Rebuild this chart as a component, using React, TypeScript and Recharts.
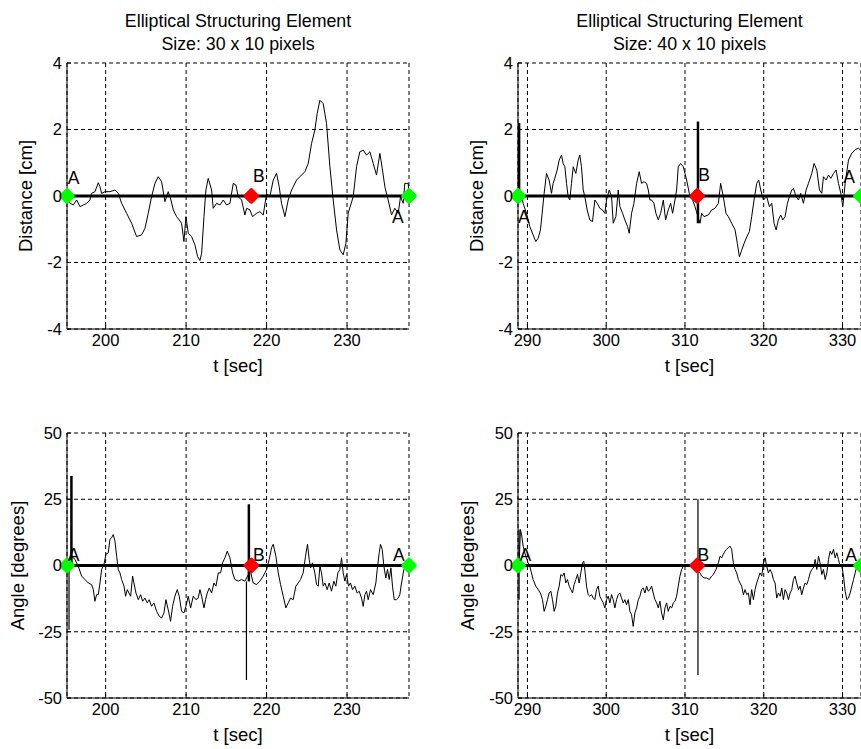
import React from 'react';
import { ComposedChart, Line, Scatter, XAxis, YAxis, CartesianGrid } from 'recharts';

const FONT = '"Liberation Sans", Arial, Helvetica, sans-serif';

// ---------- axes ----------
const ticksT30 = [200, 210, 220, 230];
const ticksT40 = [290, 300, 310, 320, 330];
const ticksDist = [-4, -2, 0, 2, 4];
const ticksAngle = [-50, -25, 0, 25, 50];
const domainT30: [number, number] = [195.2, 237.7];
const domainT40: [number, number] = [288.8, 332.35];
const domainDist: [number, number] = [-4, 4];
const domainAngle: [number, number] = [-50, 50];

const titles30 = ['Elliptical Structuring Element', 'Size: 30 x 10 pixels'];
const titles40 = ['Elliptical Structuring Element', 'Size: 40 x 10 pixels'];
const xLabel = 't [sec]';
const yLabelDist = 'Distance [cm]';
const yLabelAngle = 'Angle [degrees]';

// ---------- signals [t, value] ----------
const dist30: [number, number][] = [
  [195.24, 0], [195.57, -0.22], [195.98, -0.27], [196.4, -0.12], [196.81, -0.32], [197.23, -0.27],
  [197.64, -0.22], [198.05, -0.12], [198.26, 0.08], [198.67, 0.13], [199.09, 0.4], [199.3, 0.28],
  [199.5, 0.08], [199.92, 0.13], [200.54, 0.13], [201.16, 0.18], [201.57, 0.08], [201.99, -0.22],
  [202.61, -0.52], [203.23, -0.82], [203.85, -1.22], [204.47, -1.17], [204.89, -0.97], [205.3, -0.52],
  [205.71, -0.02], [206.13, 0.38], [206.54, 0.58], [206.96, 0.43], [207.37, -0.17], [207.58, -0.02],
  [207.78, 0.13], [208.12, -0.12], [208.41, -0.42], [208.82, -0.62], [209.15, -0.72], [209.44, -0.82],
  [209.73, -1.37], [209.98, -0.62], [210.27, -1.12], [210.68, -1.22], [211.1, -1.47], [211.43, -1.82],
  [211.72, -1.94], [211.93, -1.72], [212.22, -0.62], [212.46, 0.18], [212.75, 0.53], [213.17, 0.18],
  [213.37, -0.37], [213.79, -0.22], [214.2, -0.27], [214.62, -0.12], [215.03, -0.27], [215.45, -0.22],
  [215.86, 0.38], [216.19, 0.33], [216.48, -0.02], [216.89, -0.12], [217.31, -0.57], [217.52, -0.37],
  [217.93, -0.42], [218.26, -0.62], [218.76, -0.52], [219.17, -0.47], [219.59, -0.57], [220.0, 0.08],
  [220.41, -0.02], [220.83, 0.48], [221.24, 0.68], [221.57, 0.28], [221.86, -0.22], [222.28, -0.62],
  [222.69, -0.12], [223.11, 0.18], [223.73, 0.48], [224.14, 0.58], [224.76, 0.73], [225.18, 0.98],
  [225.59, 1.58], [226.0, 1.98], [226.29, 2.48], [226.63, 2.88], [227.04, 2.78], [227.45, 2.18],
  [227.87, 0.88], [228.28, -0.12], [228.7, -1.02], [229.11, -1.62], [229.52, -1.77], [229.86, -1.42],
  [230.14, -0.52], [230.77, -0.02], [231.18, 0.88], [231.59, 1.33], [232.01, 1.38], [232.42, 1.23],
  [232.84, 1.33], [233.25, 0.98], [233.66, 0.63], [234.08, 1.28], [234.41, 0.78], [234.7, 0.28],
  [235.11, -0.12], [235.53, -0.57], [235.94, -0.37], [236.36, -0.52], [236.65, -0.02], [236.98, -0.22],
  [237.18, 0.38], [237.6, 0.38], [237.7, 0],
];

const dist40: [number, number][] = [
  [288.81, 0], [289.11, 0.18], [289.45, -0.22], [289.87, -0.52], [290.3, -0.92], [290.72, -1.17],
  [291.06, -1.37], [291.36, -1.27], [291.65, -1.02], [291.91, -0.42], [292.12, 0.08], [292.42, 0.68],
  [292.75, 0.48], [293.05, 0.08], [293.26, 0.38], [293.47, 0.53], [293.77, 0.78], [294.03, 1.08],
  [294.32, 1.23], [294.53, 0.98], [294.75, 0.88], [294.96, 0.38], [295.17, -0.02], [295.38, -0.12],
  [295.59, 0.38], [295.81, 0.88], [296.14, 0.68], [296.44, 1.08], [296.65, 1.23], [296.86, 0.88],
  [297.08, 0.18], [297.29, -0.02], [297.58, -0.42], [297.92, -0.72], [298.26, -0.77], [298.56, -0.12],
  [298.86, -0.22], [299.19, -0.37], [299.53, -0.42], [299.83, -0.52], [300.04, -0.12], [300.38, 0.18],
  [300.68, -0.02], [300.89, -0.82], [301.23, -0.62], [301.53, 0.18], [301.74, -0.32], [302.08, -0.52],
  [302.37, -0.72], [302.71, -0.92], [302.92, -1.12], [303.22, -0.52], [303.52, -0.22], [303.86, 0.38],
  [304.19, 0.73], [304.49, 0.38], [304.79, 0.43], [305.13, 0.38], [305.34, 0.18], [305.55, -0.12],
  [305.76, -0.12], [306.06, -0.22], [306.31, -0.52], [306.61, -0.72], [306.91, -0.52], [307.25, -0.12],
  [307.54, -0.72], [307.88, -0.42], [308.18, -0.22], [308.43, -0.52], [308.73, -0.12], [308.94, 0.18],
  [309.15, 0.88], [309.45, 0.98], [309.79, 0.88], [310.0, 0.68], [310.21, 0.48], [310.55, 0.08],
  [310.76, -0.07], [310.97, -0.12], [311.27, -0.32], [311.65, -0.62], [311.91, -0.82], [312.12, -0.52],
  [312.42, -0.62], [312.97, -0.57], [313.39, -0.42], [313.81, -0.37], [314.24, -0.22], [314.53, 0.38],
  [314.87, -0.02], [315.21, -0.52], [315.51, -0.62], [315.93, -0.82], [316.36, -1.02], [316.65, -1.43],
  [316.91, -1.83], [317.2, -1.63], [317.5, -1.43], [317.84, -1.23], [318.18, -1.07], [318.47, -0.62],
  [318.77, -0.12], [319.11, 0.38], [319.36, 0.48], [319.62, 0.18], [319.96, -0.12], [320.38, -0.02],
  [320.72, -0.32], [321.02, -0.22], [321.31, -0.82], [321.57, -1.02], [321.86, -0.72], [322.16, -0.57],
  [322.42, -0.72], [322.71, -0.62], [323.01, -0.22], [323.26, -0.02], [323.56, 0.18], [323.77, 0.23],
  [324.11, -0.02], [324.41, -0.12], [324.7, 0.08], [325.04, -0.22], [325.38, 0.18], [325.68, 0.38],
  [326.1, 0.68], [326.4, 0.98], [326.74, 0.78], [327.08, 0.18], [327.37, 0.08], [327.58, 0.58],
  [327.92, 0.48], [328.22, 0.63], [328.52, 0.53], [328.86, 0.68], [329.19, 0.78], [329.49, 0.38],
  [329.79, 0.08], [330.04, -0.32], [330.34, 0.38], [330.76, 1.08], [331.19, 1.29], [331.61, 1.39],
  [332.03, 1.44], [332.35, 1.36],
];

const angle30: [number, number][] = [
  [195.24, 0], [195.78, 3.5], [196.19, 2.3], [196.6, -0.3], [197.02, -4.0], [197.43, -5.3],
  [197.85, -6.6], [198.26, -7.2], [198.47, -9.1], [198.67, -13.5], [198.88, -11.0], [199.09, -11.0],
  [199.3, -6.6], [199.5, -1.5], [199.79, 0.4], [200.04, 4.2], [200.33, 4.8], [200.54, 9.9],
  [200.75, 10.5], [200.95, 11.7], [201.16, 9.2], [201.37, 3.5], [201.57, -1.5], [201.78, -2.8],
  [201.99, -5.3], [202.28, -7.8], [202.48, -11.6], [202.69, -9.1], [202.9, -10.4], [203.11, -11.6],
  [203.35, -4.0], [203.52, -6.6], [203.77, -10.4], [204.06, -12.9], [204.35, -11.0], [204.6, -13.5],
  [204.89, -12.3], [205.18, -14.1], [205.42, -12.9], [205.71, -15.4], [206.0, -14.1], [206.34, -17.3],
  [206.67, -19.2], [206.96, -19.8], [207.25, -17.9], [207.49, -12.9], [207.78, -16.7], [208.07, -21.1],
  [208.32, -15.4], [208.61, -11.6], [208.9, -9.1], [209.15, -11.6], [209.44, -17.3], [209.73, -17.9],
  [209.98, -15.4], [210.27, -11.6], [210.56, -16.0], [210.89, -11.6], [211.22, -12.9], [211.51, -12.3],
  [211.72, -9.1], [211.93, -11.6], [212.22, -16.0], [212.42, -12.9], [212.63, -10.4], [212.88, -8.5],
  [213.17, -10.4], [213.46, -6.6], [213.71, -7.8], [214.0, -2.8], [214.29, -2.8], [214.53, 1.0],
  [214.82, 2.9], [215.11, 5.4], [215.45, 2.9], [215.78, -2.8], [216.07, -5.3], [216.48, -5.9],
  [216.89, -5.3], [217.31, -5.9], [217.98, -2.0], [218.34, -6.6], [218.76, -7.2], [219.17, -5.9],
  [219.59, -4.0], [220.0, -1.5], [220.33, 2.3], [220.62, 6.7], [220.83, 8.0], [221.16, 3.5],
  [221.45, -2.8], [221.74, -7.2], [222.07, -11.6], [222.4, -16.0], [222.69, -14.1], [222.98, -12.3],
  [223.31, -12.9], [223.64, -7.8], [223.93, -6.6], [224.22, -5.3], [224.55, -2.8], [224.84, 3.5],
  [225.09, 8.0], [225.3, 2.3], [225.47, -0.9], [225.71, 1.0], [226.0, -2.8], [226.21, -7.2],
  [226.42, -7.8], [226.63, -0.3], [226.83, -2.8], [227.04, -7.8], [227.25, -6.6], [227.54, -9.1],
  [227.78, -6.6], [228.07, -9.7], [228.36, -5.9], [228.61, -7.8], [228.86, -2.8], [229.11, -1.5],
  [229.32, 2.9], [229.52, -2.8], [229.73, -5.9], [229.94, -3.4], [230.19, -7.8], [230.43, -6.6],
  [230.68, -9.1], [230.97, -7.8], [231.26, -10.4], [231.51, -9.7], [231.8, -12.3], [232.01, -15.4],
  [232.22, -11.0], [232.42, -9.7], [232.63, -12.9], [232.92, -9.1], [233.25, -11.0], [233.58, -6.6],
  [233.75, -1.5], [234.0, 4.8], [234.16, 8.0], [234.37, 6.1], [234.58, -0.3], [234.82, -4.7],
  [235.03, -1.5], [235.24, -5.3], [235.45, -0.9], [235.65, -7.8], [235.86, -12.9], [236.15, -12.9],
  [236.36, -12.3], [236.56, -11.0], [236.77, -6.6], [237.06, -1.5], [237.31, -0.3], [237.7, 0],
];

const angle40: [number, number][] = [
  [288.94, 0], [289.11, 13.6], [289.28, 11.1], [289.45, 7.3], [289.66, 4.8], [289.87, 2.9],
  [290.08, 1.0], [290.3, -0.3], [290.51, -2.8], [290.72, -5.3], [291.06, -7.8], [291.36, -9.1],
  [291.65, -10.4], [291.91, -12.9], [292.12, -17.3], [292.33, -15.4], [292.54, -12.9], [292.75, -10.4],
  [292.97, -9.7], [293.18, -12.9], [293.39, -17.3], [293.6, -15.4], [293.81, -10.4], [294.03, -7.8],
  [294.24, -3.4], [294.45, -4.0], [294.66, -2.8], [294.87, -6.6], [295.08, -5.3], [295.3, -7.8],
  [295.51, -9.1], [295.72, -10.4], [295.93, -7.2], [296.14, -5.3], [296.36, -3.4], [296.57, -6.6],
  [296.78, -2.8], [296.99, 1.0], [297.16, 1.6], [297.33, -2.8], [297.5, -7.8], [297.71, -11.0],
  [297.92, -11.6], [298.14, -11.0], [298.35, -12.3], [298.56, -12.9], [298.77, -9.1], [298.98, -7.8],
  [299.19, -11.6], [299.41, -12.9], [299.62, -14.1], [299.83, -16.0], [300.04, -12.9], [300.25, -11.6],
  [300.47, -14.1], [300.68, -11.0], [300.89, -12.9], [301.1, -16.0], [301.31, -12.9], [301.53, -11.0],
  [301.74, -10.4], [301.95, -12.3], [302.16, -14.1], [302.37, -12.9], [302.58, -14.8], [302.8, -12.9],
  [303.01, -17.3], [303.22, -18.6], [303.43, -23.0], [303.64, -17.9], [303.86, -16.0], [304.07, -12.9],
  [304.28, -11.6], [304.49, -9.1], [304.7, -8.5], [304.92, -10.4], [305.13, -7.8], [305.34, -9.7],
  [305.55, -9.1], [305.76, -7.8], [305.97, -10.4], [306.19, -12.9], [306.4, -14.1], [306.61, -16.0],
  [306.82, -13.5], [307.03, -17.9], [307.25, -20.5], [307.46, -16.0], [307.67, -14.1], [307.88, -17.3],
  [308.09, -15.4], [308.31, -16.0], [308.52, -14.1], [308.73, -13.5], [308.94, -11.6], [309.15, -7.8],
  [309.36, -4.0], [309.58, -1.5], [309.79, -0.3], [310.0, 0.4], [310.64, 0.3], [311.27, -1.0],
  [311.91, -2.8], [312.12, -4.0], [312.42, -4.7], [312.75, -4.7], [313.09, -5.3], [313.39, -4.0],
  [313.6, -3.4], [313.94, -1.5], [314.24, 1.0], [314.45, 3.5], [314.66, 2.9], [314.87, 4.2],
  [315.08, 5.4], [315.3, 6.1], [315.51, 6.7], [315.72, 7.3], [315.93, 6.1], [316.14, 1.0],
  [316.36, -1.5], [316.57, -2.8], [316.78, -5.3], [316.99, -6.6], [317.2, -7.8], [317.42, -11.0],
  [317.63, -9.1], [317.84, -11.0], [318.05, -10.4], [318.26, -14.8], [318.47, -9.1], [318.69, -12.9],
  [318.9, -9.1], [319.11, -6.6], [319.32, -4.7], [319.53, -2.8], [319.75, -4.0], [319.96, 1.0],
  [320.17, 2.9], [320.38, -0.3], [320.59, -2.8], [320.81, -1.5], [321.02, -2.8], [321.23, -5.3],
  [321.44, -6.6], [321.65, -12.3], [321.86, -10.4], [322.08, -11.6], [322.29, -8.5], [322.5, -12.9],
  [322.71, -9.1], [322.92, -10.4], [323.14, -12.9], [323.35, -10.4], [323.56, -9.1], [323.77, -5.3],
  [323.98, -4.0], [324.19, -6.6], [324.41, -9.1], [324.62, -7.8], [324.83, -11.0], [325.04, -8.5],
  [325.25, -6.6], [325.47, -7.2], [325.68, -5.3], [325.89, -2.8], [326.1, -1.5], [326.31, -0.9],
  [326.53, 2.3], [326.74, -1.5], [326.95, 3.5], [327.16, 1.0], [327.37, -3.4], [327.58, -1.5],
  [327.8, -5.3], [328.01, -2.8], [328.22, 2.3], [328.43, 5.4], [328.64, 4.2], [328.86, 6.1],
  [329.07, 2.9], [329.28, 4.8], [329.49, 2.3], [329.7, -0.3], [329.92, -0.3], [330.13, -4.0],
  [330.34, -9.7], [330.55, -12.9], [330.76, -12.3], [330.97, -10.4], [331.19, -7.8], [331.4, -5.3],
  [331.61, -2.8], [331.82, -0.3], [332.16, 0],
];

// ---------- event markers (A = segment ends, B = midpoint event) ----------
const events30 = [
  { t: 195.2, name: 'A' },
  { t: 218.1, name: 'B' },
  { t: 237.7, name: 'A' },
];
const events40 = [
  { t: 288.8, name: 'A' },
  { t: 311.55, name: 'B' },
  { t: 332.35, name: 'A' },
];

// text annotations, in data units
const notesDist30 = [
  { t: 195.3, v: 0.55, text: 'A' },
  { t: 218.3, v: 0.6, text: 'B' },
  { t: 235.6, v: -0.62, text: 'A' },
];
const notesDist40 = [
  { t: 288.8, v: -0.62, text: 'A' },
  { t: 311.7, v: 0.64, text: 'B' },
  { t: 330.1, v: 0.58, text: 'A' },
];
const notesAngle30 = [
  { t: 195.3, v: 4.2, text: 'A' },
  { t: 218.3, v: 4.2, text: 'B' },
  { t: 235.7, v: 4.2, text: 'A' },
];
const notesAngle40 = [
  { t: 289.0, v: 4.2, text: 'A' },
  { t: 311.6, v: 4.2, text: 'B' },
  { t: 330.35, v: 4.2, text: 'A' },
];

// ---------- vertical transients [t, low, high] ----------
const heavySpikesDist30: [number, number, number][] = [];
const lightSpikesDist30: [number, number, number][] = [];
const heavySpikesDist40: [number, number, number][] = [
  [288.94, 0, 2.2],
  [311.65, -0.82, 2.24],
];
const lightSpikesDist40: [number, number, number][] = [];
const heavySpikesAngle30: [number, number, number][] = [
  [195.75, 0, 33.8],
  [217.8, -6, 23.1],
];
const lightSpikesAngle30: [number, number, number][] = [
  [195.45, -24.2, 0],
  [217.5, -43.2, -6],
];
const heavySpikesAngle40: [number, number, number][] = [];
const lightSpikesAngle40: [number, number, number][] = [
  [288.94, -12.9, 13.6],
  [311.65, -41.3, 25.0],
];

// ---------- rendering ----------
const toPts = (arr: [number, number][]) => arr.map(([t, v]) => ({ t, v }));

const EventMarker = (p: any) => {
  const { cx, cy, payload } = p;
  if (cx == null || cy == null) return null;
  const c = payload && payload.name === 'A' ? '#00ff00' : '#ff0000';
  const r = 5.5;
  return (
    <polygon
      points={`${cx},${cy - r} ${cx + r},${cy} ${cx},${cy + r} ${cx - r},${cy}`}
      fill={c}
      stroke={c}
      strokeWidth={4.5}
      strokeLinejoin="round"
    />
  );
};

const NoteText = (p: any) => {
  const { cx, cy, payload } = p;
  if (cx == null || cy == null) return null;
  return (
    <text x={cx} y={cy} dy="0.36em" textAnchor="start" fontFamily={FONT} fontSize={17.5} fill="#000">
      {payload.text}
    </text>
  );
};

type PanelProps = {
  left: number;
  top: number;
  plotW: number;
  plotH: number;
  signal: [number, number][];
  xDomain: [number, number];
  xTicks: number[];
  yDomain: [number, number];
  yTicks: number[];
  events: { t: number; name: string }[];
  notes: { t: number; v: number; text: string }[];
  heavy: [number, number, number][];
  light: [number, number, number][];
  yLabel: string;
  yLabelX: number;
  title?: string[];
};

const CHART_W = 430;
const CHART_H = 379;
const PLOT_LEFT = 67;
const PLOT_TOP = 63;
const XAXIS_H = 50;
const YAXIS_W = 60;

function Panel(props: PanelProps) {
  const { left, top, plotW, plotH, signal, xDomain, xTicks, yDomain, yTicks, events, notes, heavy, light, yLabel, yLabelX, title } = props;
  const data = toPts(signal);
  const aEvents = events.filter((e) => e.name === 'A').map((e) => ({ t: e.t, v: 0 }));
  const eventPts = events.map((e) => ({ ...e, v: 0 }));
  const tickStyle = { fill: '#000', fontSize: 16.5, fontFamily: FONT };
  const margin = {
    top: PLOT_TOP,
    left: PLOT_LEFT - YAXIS_W,
    right: CHART_W - PLOT_LEFT - plotW,
    bottom: CHART_H - PLOT_TOP - plotH - XAXIS_H,
  };

  const xLabelContent = (lp: any) => {
    const vb = lp.viewBox || {};
    const cx = vb.x + vb.width / 2;
    return (
      <g>
        <text x={cx} y={vb.y + 43} textAnchor="middle" fontFamily={FONT} fontSize={18.5} fill="#000">
          {xLabel}
        </text>
        {title ? (
          <text x={cx} y={27} textAnchor="middle" fontFamily={FONT} fontSize={17.8} fill="#000">{title[0]}</text>
        ) : null}
        {title ? (
          <text x={cx} y={50} textAnchor="middle" fontFamily={FONT} fontSize={17.8} fill="#000">{title[1]}</text>
        ) : null}
      </g>
    );
  };
  const yLabelContent = (lp: any) => {
    const vb = lp.viewBox || {};
    const cy = vb.y + vb.height / 2;
    return (
      <text
        x={yLabelX}
        y={cy}
        dy="0.36em"
        transform={`rotate(-90 ${yLabelX} ${cy})`}
        textAnchor="middle"
        fontFamily={FONT}
        fontSize={18.5}
        fill="#000"
      >
        {yLabel}
      </text>
    );
  };

  return (
    <div style={{ position: 'absolute', left, top, width: CHART_W, height: CHART_H }}>
      <ComposedChart width={CHART_W} height={CHART_H} margin={margin}>
        <CartesianGrid stroke="#000" strokeDasharray="4 3" fill="none" />
        <XAxis
          dataKey="t"
          type="number"
          domain={xDomain}
          ticks={xTicks}
          interval={0}
          height={XAXIS_H}
          stroke="#000"
          tickSize={-4}
          tickMargin={9}
          tick={tickStyle}
          label={{ content: xLabelContent }}
        />
        <XAxis
          xAxisId="top"
          orientation="top"
          dataKey="t"
          type="number"
          domain={xDomain}
          ticks={xTicks}
          interval={0}
          height={0}
          stroke="#000"
          tickSize={-4}
          tickFormatter={() => ''}
        />
        <YAxis
          dataKey="v"
          type="number"
          domain={yDomain}
          ticks={yTicks}
          interval={0}
          width={YAXIS_W}
          stroke="#000"
          tickSize={-4}
          tickMargin={9}
          tick={tickStyle}
          label={{ content: yLabelContent }}
        />
        <YAxis
          yAxisId="r"
          orientation="right"
          dataKey="v"
          type="number"
          domain={yDomain}
          ticks={yTicks}
          interval={0}
          width={0}
          stroke="#000"
          tickSize={-4}
          tickFormatter={() => ''}
        />
        <Line data={data} dataKey="v" stroke="#000" strokeWidth={1} dot={false} activeDot={false} isAnimationActive={false} type="linear" />
        {heavy.map(([t, lo, hi], i) => (
          <Line
            key={'h' + i}
            data={[{ t, v: lo }, { t, v: hi }]}
            dataKey="v"
            stroke="#000"
            strokeWidth={2.5}
            dot={false}
            activeDot={false}
            isAnimationActive={false}
          />
        ))}
        {light.map(([t, lo, hi], i) => (
          <Line
            key={'l' + i}
            data={[{ t, v: lo }, { t, v: hi }]}
            dataKey="v"
            stroke="#000"
            strokeWidth={1.2}
            dot={false}
            activeDot={false}
            isAnimationActive={false}
          />
        ))}
        <Line data={aEvents} dataKey="v" stroke="#000" strokeWidth={3} dot={false} activeDot={false} isAnimationActive={false} />
        <Scatter data={eventPts} dataKey="v" shape={EventMarker} isAnimationActive={false} />
        <Scatter data={notes} dataKey="v" shape={NoteText} isAnimationActive={false} />
      </ComposedChart>
    </div>
  );
}

export default function App() {
  return (
    <div
      style={{
        position: 'absolute',
        left: 0,
        top: 0,
        width: 861,
        height: 749,
        overflow: 'hidden',
        background: '#fff',
      }}
    >
      <Panel
        left={0}
        top={0}
        plotW={342}
        plotH={266}
        signal={dist30}
        xDomain={domainT30}
        xTicks={ticksT30}
        yDomain={domainDist}
        yTicks={ticksDist}
        events={events30}
        notes={notesDist30}
        heavy={heavySpikesDist30}
        light={lightSpikesDist30}
        yLabel={yLabelDist}
        yLabelX={25}
        title={titles30}
      />
      <Panel
        left={451}
        top={0}
        plotW={343}
        plotH={266}
        signal={dist40}
        xDomain={domainT40}
        xTicks={ticksT40}
        yDomain={domainDist}
        yTicks={ticksDist}
        events={events40}
        notes={notesDist40}
        heavy={heavySpikesDist40}
        light={lightSpikesDist40}
        yLabel={yLabelDist}
        yLabelX={25}
        title={titles40}
      />
      <Panel
        left={0}
        top={370}
        plotW={342}
        plotH={265}
        signal={angle30}
        xDomain={domainT30}
        xTicks={ticksT30}
        yDomain={domainAngle}
        yTicks={ticksAngle}
        events={events30}
        notes={notesAngle30}
        heavy={heavySpikesAngle30}
        light={lightSpikesAngle30}
        yLabel={yLabelAngle}
        yLabelX={17}
      />
      <Panel
        left={451}
        top={370}
        plotW={343}
        plotH={265}
        signal={angle40}
        xDomain={domainT40}
        xTicks={ticksT40}
        yDomain={domainAngle}
        yTicks={ticksAngle}
        events={events40}
        notes={notesAngle40}
        heavy={heavySpikesAngle40}
        light={lightSpikesAngle40}
        yLabel={yLabelAngle}
        yLabelX={16}
      />
    </div>
  );
}
